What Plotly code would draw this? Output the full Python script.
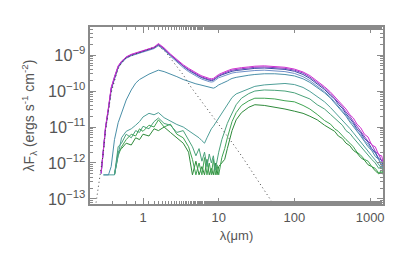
import numpy as np
import plotly.graph_objects as go

# wavelength grid (micron)
wl = [0.28, 0.30, 0.32, 0.35, 0.38, 0.42, 0.47, 0.52, 0.60, 0.70,
      0.80, 0.90, 1.0, 1.2, 1.4, 1.6, 1.9, 2.3, 2.8, 3.4,
      4.0, 4.5, 5.0, 5.5, 6.0, 6.5, 7.0, 7.5, 8.0, 8.5,
      9.0, 9.5, 10, 11, 12, 13, 14, 15, 17, 20,
      25, 30, 40, 55, 75, 100, 130, 160, 200, 250,
      300, 340, 380, 430, 480, 540, 600, 670, 750, 840,
      940, 1050, 1170, 1300, 1420, 1500]

N = None
# log10(lambda F_lambda) for each model SED
c1 = [-12.3, -11.7, -11.0, -10.45, -9.9, -9.62, -9.3, -9.18, -9.05, -8.98,
      -8.94, -8.9, -8.87, -8.83, -8.78, -8.68, -8.8, -8.97, -9.13, -9.27,
      -9.37, -9.44, -9.49, -9.54, -9.58, -9.61, -9.63, -9.65, -9.66, -9.65,
      -9.61, -9.57, -9.54, -9.5, -9.46, -9.43, -9.41, -9.39, -9.37, -9.35,
      -9.33, -9.31, -9.3, -9.31, -9.34, -9.39, -9.47, -9.57, -9.72, -9.88,
      -10.03, -10.16, -10.25, -10.4, -10.5, -10.66, -10.75, -10.92, -11.02, -11.2,
      -11.28, -11.5, -11.55, -11.78, -11.8, -12.0]
c2 = [-12.25, -11.65, -11.05, -10.5, -9.92, -9.6, -9.32, -9.17, -9.06, -8.99,
      -8.95, -8.91, -8.88, -8.84, -8.79, -8.7, -8.82, -8.99, -9.16, -9.3,
      -9.4, -9.47, -9.52, -9.57, -9.61, -9.64, -9.66, -9.68, -9.69, -9.68,
      -9.64, -9.6, -9.57, -9.53, -9.49, -9.46, -9.44, -9.42, -9.4, -9.38,
      -9.36, -9.34, -9.33, -9.34, -9.37, -9.42, -9.5, -9.61, -9.76, -9.92,
      -10.08, -10.2, -10.32, -10.44, -10.58, -10.7, -10.84, -10.98, -11.1, -11.25,
      -11.4, -11.48, -11.68, -11.75, -11.95, -11.9]
c3 = [-12.28, -11.68, -11.02, -10.48, -9.95, -9.65, -9.33, -9.2, -9.07, -9.0,
      -8.96, -8.92, -8.89, -8.85, -8.8, -8.71, -8.83, -9.0, -9.17, -9.31,
      -9.42, -9.49, -9.54, -9.59, -9.63, -9.66, -9.68, -9.7, -9.71, -9.7,
      -9.66, -9.62, -9.59, -9.55, -9.52, -9.49, -9.47, -9.45, -9.43, -9.41,
      -9.39, -9.37, -9.36, -9.37, -9.4, -9.45, -9.54, -9.65, -9.8, -9.96,
      -10.12, -10.22, -10.37, -10.48, -10.63, -10.75, -10.88, -11.05, -11.15, -11.32,
      -11.42, -11.6, -11.7, -11.88, -11.92, -12.1]
c4 = [-12.3, -11.72, -11.05, -10.5, -9.97, -9.67, -9.35, -9.22, -9.09, -9.02,
      -8.98, -8.94, -8.91, -8.87, -8.82, -8.74, -8.86, -9.03, -9.2, -9.35,
      -9.46, -9.53, -9.58, -9.63, -9.67, -9.7, -9.72, -9.74, -9.75, -9.74,
      -9.7, -9.66, -9.63, -9.6, -9.57, -9.54, -9.52, -9.5, -9.48, -9.46,
      -9.44, -9.43, -9.42, -9.43, -9.46, -9.51, -9.6, -9.71, -9.86, -10.02,
      -10.17, -10.3, -10.4, -10.55, -10.67, -10.82, -10.92, -11.1, -11.2, -11.38,
      -11.48, -11.65, -11.72, -11.92, -12.0, -12.15]
c5 = [N, -12.33, -12.33, -12.33, -12.1, -11.35, -10.88, -10.6, -10.25, -9.97,
      -9.78, -9.68, -9.62, -9.53, -9.47, -9.42, -9.46, -9.52, -9.6, -9.68,
      -9.74, -9.77, -9.8, -9.82, -9.84, -9.86, -9.88, -9.9, -9.91, -9.92,
      -9.9, -9.86, -9.83, -9.79, -9.76, -9.72, -9.68, -9.65, -9.62, -9.59,
      -9.56, -9.54, -9.52, -9.52, -9.54, -9.58, -9.66, -9.76, -9.9, -10.05,
      -10.2, -10.33, -10.45, -10.6, -10.7, -10.86, -10.98, -11.12, -11.25, -11.4,
      -11.55, -11.65, -11.82, -11.9, -12.1, -12.05]
c6 = [N, -12.33, -12.33, -12.33, -12.33, -12.33, -11.78, -11.3, -11.12, -11.05,
      -10.95, -10.85, -10.72, -10.62, -10.66, -10.6, -10.74, -10.84, -10.93, -11.0,
      -11.1, -11.18, -11.22, -11.3, -11.38, -11.45, -11.3, -11.15, -11.05, -10.98,
      -10.9, -10.82, -10.78, -10.62, -10.5, -10.38, -10.28, -10.18, -10.08, -10.02,
      -9.93, -9.87, -9.83, -9.8, -9.79, -9.82, -9.9, -10.01, -10.15, -10.3,
      -10.46, -10.58, -10.68, -10.8, -10.93, -11.04, -11.16, -11.28, -11.42, -11.55,
      -11.68, -11.8, -11.92, -12.05, -12.15, -12.1]
c7 = [N, N, N, N, N, -12.33, -11.55, -11.45, -11.2, -11.3,
      -11.1, -11.15, -10.98, -11.05, -10.85, -10.75, -10.9, -10.95, -11.15, -11.1,
      -11.35, -11.55, -11.8, -11.6, -11.95, -11.7, -12.1, -11.75, -12.0, -11.8,
      -12.2, -11.9, -11.7, -11.35, -11.1, -10.9, -10.75, -10.6, -10.38, -10.2,
      -10.07, -10.0, -9.97, -9.98, -10.0, -10.05, -10.15, -10.22, -10.38, -10.5,
      -10.65, -10.75, -10.85, -10.95, -11.1, -11.18, -11.3, -11.42, -11.55, -11.65,
      -11.8, -11.9, -12.0, -12.15, -12.1, -12.25]
c8 = [N, N, N, N, N, -12.33, -11.8, -11.55, -11.35, -11.2,
      -11.25, -11.05, -11.12, -10.95, -11.0, -10.8, -11.0, -10.92, -11.2, -11.3,
      -11.55, -11.9, -12.33, -12.0, -12.33, -11.85, -12.33, -12.0, -12.33, -11.9,
      -12.33, -12.05, -12.33, -11.85, -11.6, -11.3, -11.05, -10.85, -10.6, -10.4,
      -10.27, -10.2, -10.2, -10.22, -10.27, -10.3, -10.4, -10.5, -10.65, -10.82,
      -10.92, -11.05, -11.12, -11.25, -11.35, -11.45, -11.55, -11.7, -11.78, -11.9,
      -11.95, -12.1, -12.15, -12.28, -12.2, -12.3]
c9 = [N, N, N, N, N, -12.33, -11.7, -11.6, -11.45, -11.5,
      -11.3, -11.35, -11.2, -11.25, -11.05, -11.1, -11.0, -11.15, -11.3, -11.45,
      -11.7, -12.33, -11.95, -12.33, -12.1, -12.33, -11.9, -12.33, -12.15, -12.33,
      -12.0, -12.33, -12.1, -12.0, -11.9, -11.6, -11.35, -11.1, -10.8, -10.6,
      -10.45, -10.38, -10.4, -10.44, -10.5, -10.56, -10.62, -10.7, -10.8, -10.95,
      -11.05, -11.12, -11.25, -11.32, -11.45, -11.52, -11.65, -11.72, -11.85, -11.92,
      -12.05, -12.1, -12.22, -12.3, -12.25, -12.33]

# stellar photosphere
phot_wl = [0.24, 0.26, 0.28, 0.30, 0.32, 0.35, 0.38, 0.42, 0.47, 0.52, 0.6, 0.8,
           1.0, 1.3, 1.6, 2.0, 2.6, 3.4, 4.3, 6, 8, 10, 15, 20, 30, 40, 50, 55]
phot = [-13.1, -12.6, -12.25, -11.7, -11.1, -10.55, -10.05, -9.72, -9.38, -9.22, -9.08, -8.97,
        -8.9, -8.82, -8.74, -8.92, -9.22, -9.55, -9.89, -10.3, -10.65, -10.9, -11.43, -11.8,
        -12.35, -12.75, -13.05, -13.2]

series = [c9, c8, c7, c6, c5, c4, c3, c2, c1]
colors = ["#2e8a3a", "#3fa452", "#4aa27a", "#4f9f98", "#4a8fa8",
          "#6f8fc8", "#3a4aa8", "#8a3ac0", "#d030d0"]


def tolin(v):
    return [None if a is None else 10.0 ** a for a in v]


fig = go.Figure()
for s, c in zip(series, colors):
    fig.add_trace(go.Scatter(x=wl, y=tolin(s), mode="lines",
                             line=dict(color=c, width=1), connectgaps=False,
                             hoverinfo="skip"))
fig.add_trace(go.Scatter(x=phot_wl, y=tolin(phot), mode="lines",
                         line=dict(color="#444444", width=1, dash="1px,3px"),
                         hoverinfo="skip"))

axcol = "#8a8a8a"
txt = "#555555"
common = dict(showline=True, linecolor=axcol, linewidth=2, mirror="allticks",
              ticks="inside", ticklen=6, tickwidth=1, tickcolor=axcol,
              showgrid=False, zeroline=False, automargin=False,
              tickfont=dict(family="Liberation Sans, Arial", size=13, color=txt),
              minor=dict(ticks="inside", ticklen=3, tickwidth=1, tickcolor=axcol,
                         showgrid=False))

fig.update_xaxes(type="log", range=[-0.70, 3.17],
                 tickvals=[1, 10, 100, 1000], ticktext=["1", "10", "100", "1000"],
                 title=dict(text="λ(μm)", standoff=7,
                            font=dict(family="Liberation Sans, Arial", size=13, color=txt)),
                 **common)
fig.update_yaxes(type="log", range=[-13.14, -8.22], dtick=1,
                 exponentformat="power", showexponent="all",
                 title=dict(text="λF<sub>λ</sub> (ergs s<sup>-1</sup> cm<sup>-2</sup>)",
                            standoff=10,
                            font=dict(family="Liberation Sans, Arial", size=14, color=txt)),
                 **common)

fig.update_layout(width=409, height=259, margin=dict(l=90, r=26, t=27, b=55),
                  paper_bgcolor="white", plot_bgcolor="white", showlegend=False)

fig.write_html("out.html", config={"displayModeBar": False},
               post_script="document.body.style.margin='0';document.body.style.padding='0';")
